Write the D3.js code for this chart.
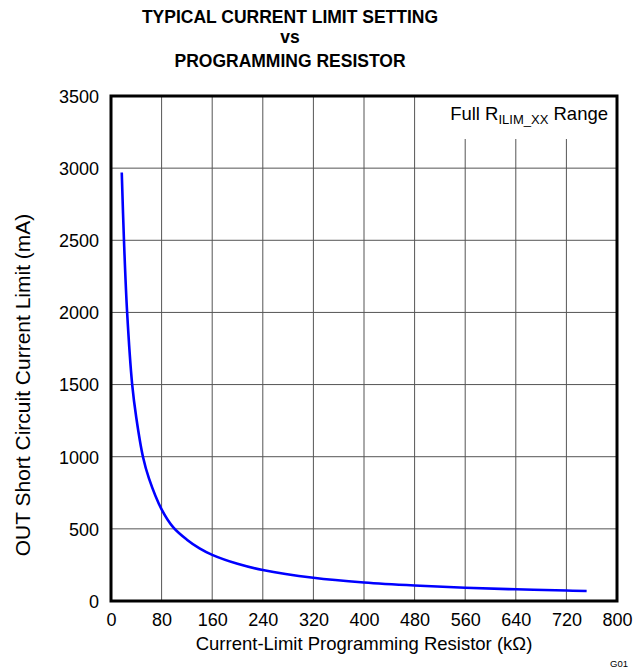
<!DOCTYPE html>
<html>
<head>
<meta charset="utf-8">
<script src="https://cdn.jsdelivr.net/npm/d3@7"></script>
<style>
  html, body { margin: 0; padding: 0; background: #fff; }
  svg { display: block; font-family: "Liberation Sans", Arial, sans-serif; }
</style>
</head>
<body>
<svg id="chart" width="634" height="670"></svg>
<script>
// ---- data ----
const titleLines = ["TYPICAL CURRENT LIMIT SETTING", "vs", "PROGRAMMING RESISTOR"];
const xTicks = [0, 80, 160, 240, 320, 400, 480, 560, 640, 720, 800];
const yTicks = [0, 500, 1000, 1500, 2000, 2500, 3000, 3500];
const resistanceK = [17, 20.5, 25.5, 33.5, 40, 50.5, 60, 80, 98.5, 120, 140, 160, 200, 240, 320, 400, 480, 560, 640, 720, 752];
const currentMA  = [2970, 2500, 2000, 1500, 1270, 1000, 850, 635, 510, 425, 365, 320, 258, 215, 161, 128, 107, 92, 81, 72.5, 69];
const xLabel = "Current-Limit Programming Resistor (k\u03A9)";
const yLabel = "OUT Short Circuit Current Limit  (mA)";

// ---- layout ----
const svg = d3.select("#chart");
const L = 111, R = 617, T = 96, B = 601;
const x = d3.scaleLinear().domain([0, 800]).range([L, R]);
const y = d3.scaleLinear().domain([0, 3500]).range([B, T]);

// grid
const grid = svg.append("g").attr("stroke", "#555").attr("stroke-width", 1);
grid.selectAll("line.v").data(xTicks.slice(1, -1)).enter().append("line")
  .attr("x1", d => x(d)).attr("x2", d => x(d)).attr("y1", T).attr("y2", B);
grid.selectAll("line.h").data(yTicks.slice(1, -1)).enter().append("line")
  .attr("x1", L).attr("x2", R).attr("y1", d => y(d)).attr("y2", d => y(d));

// white box behind annotation
svg.append("rect").attr("x", 430).attr("y", T).attr("width", R - 430).attr("height", 139 - T).attr("fill", "#fff");

// curve
const pts = resistanceK.map((r, i) => [r, currentMA[i]]);
svg.append("path").datum(pts)
  .attr("fill", "none").attr("stroke", "#0000ff").attr("stroke-width", 2.6)
  .attr("d", d3.line().x(d => x(d[0])).y(d => y(d[1])).curve(d3.curveCatmullRom.alpha(0.5)));

// frame
svg.append("rect").attr("x", L).attr("y", T).attr("width", R - L).attr("height", B - T)
  .attr("fill", "none").attr("stroke", "#000").attr("stroke-width", 3);

// axes (labels only)
const fmt = d3.format("d");
const xAxis = d3.axisBottom(x).tickValues(xTicks).tickFormat(fmt).tickSize(0).tickPadding(0);
const gx = svg.append("g").attr("transform", `translate(0,${B})`).call(xAxis);
gx.select(".domain").remove();
gx.selectAll("text").attr("font-size", 18).attr("fill", "#000").attr("dy", null).attr("y", 24.5)
  .attr("font-family", "Liberation Sans, Arial, sans-serif");

const yAxis = d3.axisLeft(y).tickValues(yTicks).tickFormat(fmt).tickSize(0).tickPadding(12);
const gy = svg.append("g").attr("transform", `translate(${L},0)`).call(yAxis);
gy.select(".domain").remove();
gy.selectAll("text").attr("font-size", 18).attr("fill", "#000").attr("dy", "0.35em")
  .attr("font-family", "Liberation Sans, Arial, sans-serif");

// title
const tY = [23.3, 43, 66.5];
svg.append("g").selectAll("text").data(titleLines).enter().append("text")
  .attr("x", 290).attr("y", (d, i) => tY[i]).attr("text-anchor", "middle")
  .attr("font-weight", "bold").attr("font-size", 17.5).text(d => d);

// axis titles
svg.append("text").attr("x", (195 + 533) / 2).attr("y", 650).attr("text-anchor", "middle")
  .attr("font-size", 18.5).text(xLabel);
svg.append("text").attr("transform", `translate(30,385) rotate(-90)`)
  .attr("text-anchor", "middle").attr("font-size", 21).text(yLabel);

// annotation
const ann = svg.append("text").attr("x", 608).attr("y", 119.5).attr("text-anchor", "end").attr("font-size", 18.5);
ann.append("tspan").text("Full R");
ann.append("tspan").attr("font-size", 13).attr("dy", 4).text("ILIM_XX");
ann.append("tspan").attr("dy", -4).text(" Range");

// figure code
svg.append("text").attr("x", 628).attr("y", 667).attr("text-anchor", "end").attr("font-size", 9.5).text("G01");
</script>
</body>
</html>
